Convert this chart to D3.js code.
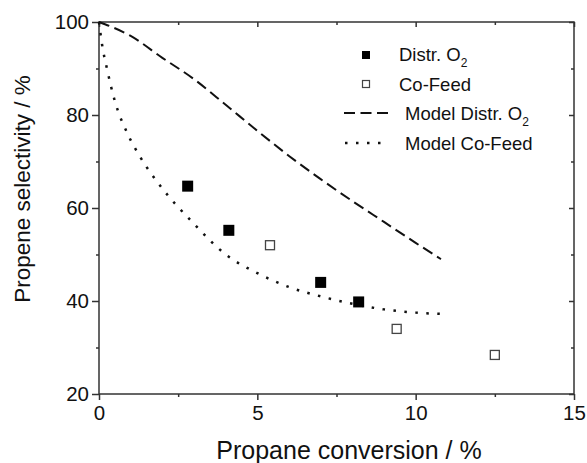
<!DOCTYPE html>
<html>
<head>
<meta charset="utf-8">
<script src="https://cdn.jsdelivr.net/npm/d3@7"></script>
<style>
  body { margin: 0; background: #fff; }
  svg { display: block; font-family: "Liberation Sans", Arial, sans-serif; }
  .tick text { font-size: 20.5px; fill: #111; }
</style>
</head>
<body>
<svg id="chart" width="587" height="463"></svg>
<script>
// ---- data ----
const distrX = [2.8, 4.1, 7.0, 8.2];
const distrY = [64.7, 55.2, 44.0, 39.8];
const cofeedX = [5.4, 9.4, 12.5];
const cofeedY = [52.0, 34.0, 28.4];

const modelDistrX = [0, 1, 2, 3, 4, 5, 6, 7, 8, 9, 10, 10.8];
const modelDistrY = [100, 97, 92.3, 87.7, 82.2, 76.6, 71.2, 66.2, 61.5, 57.0, 52.5, 49.0];

const modelCoX = [0, 0.1, 0.25, 0.5, 0.9, 1.3, 2, 3, 4, 5, 6, 7, 8, 9, 10, 11];
const modelCoY = [100, 95, 90, 83, 76, 71, 64.2, 56.6, 50.0, 46.0, 43.0, 41.0, 39.4, 38.2, 37.5, 37.2];

const xTicks = [0, 5, 10, 15];
const yTicks = [20, 40, 60, 80, 100];

// ---- layout ----
const svg = d3.select("#chart");
const margin = { left: 99, right: 13, top: 22, bottom: 69 };
const W = 587, H = 463;

const x = d3.scaleLinear().domain([0, 15]).range([margin.left, W - margin.right]);
const y = d3.scaleLinear().domain([20, 100]).range([H - margin.bottom, margin.top]);

const axisColor = "#333";

// frame
svg.append("rect")
  .attr("x", x(0)).attr("y", y(100))
  .attr("width", x(15) - x(0)).attr("height", y(20) - y(100))
  .attr("fill", "none").attr("stroke", axisColor).attr("stroke-width", 1.5);

// minor ticks (between majors)
const xMinor = d3.range(2.5, 15, 5);
const yMinor = d3.range(30, 100, 20);

function styleAxis(gSel) {
  gSel.select(".domain").remove();
  gSel.selectAll(".tick line").attr("stroke", axisColor).attr("stroke-width", 1.5);
}

// bottom / left: outward, labelled
svg.append("g").attr("transform", `translate(0,${y(20)})`)
  .call(d3.axisBottom(x).tickValues(xTicks).tickSize(6).tickPadding(5).tickFormat(d3.format("d")))
  .call(styleAxis);
svg.append("g").attr("transform", `translate(0,${y(20)})`)
  .call(d3.axisBottom(x).tickValues(xMinor).tickSize(3).tickFormat(""))
  .call(styleAxis);
svg.append("g").attr("transform", `translate(${x(0)},0)`)
  .call(d3.axisLeft(y).tickValues(yTicks).tickSize(7).tickPadding(3).tickFormat(d3.format("d")))
  .call(styleAxis);
svg.append("g").attr("transform", `translate(${x(0)},0)`)
  .call(d3.axisLeft(y).tickValues(yMinor).tickSize(3).tickFormat(""))
  .call(styleAxis);

// top / right: inward, no labels
svg.append("g").attr("transform", `translate(0,${y(100)})`)
  .call(d3.axisTop(x).tickValues(xTicks).tickSize(-5).tickFormat(""))
  .call(styleAxis);
svg.append("g").attr("transform", `translate(0,${y(100)})`)
  .call(d3.axisTop(x).tickValues(xMinor).tickSize(-3).tickFormat(""))
  .call(styleAxis);
svg.append("g").attr("transform", `translate(${x(15)},0)`)
  .call(d3.axisRight(y).tickValues(yTicks).tickSize(-5).tickFormat(""))
  .call(styleAxis);
svg.append("g").attr("transform", `translate(${x(15)},0)`)
  .call(d3.axisRight(y).tickValues(yMinor).tickSize(-3).tickFormat(""))
  .call(styleAxis);

// axis titles
svg.append("text")
  .attr("x", 349).attr("y", 459)
  .attr("text-anchor", "middle").attr("font-size", 25).attr("fill", "#111")
  .text("Propane conversion / %");
svg.append("text")
  .attr("transform", `translate(30,189) rotate(-90)`)
  .attr("text-anchor", "middle").attr("font-size", 22.5).attr("fill", "#111")
  .text("Propene selectivity / %");

// ---- model curves ----
const line = d3.line().curve(d3.curveMonotoneX);
svg.append("path")
  .datum(modelDistrX.map((v, i) => [x(v), y(modelDistrY[i])]))
  .attr("d", line)
  .attr("fill", "none").attr("stroke", "#111").attr("stroke-width", 2)
  .attr("stroke-dasharray", "11,5.5");
svg.append("path")
  .datum(modelCoX.map((v, i) => [x(v), y(modelCoY[i])]))
  .attr("d", line)
  .attr("fill", "none").attr("stroke", "#111").attr("stroke-width", 2.5)
  .attr("stroke-dasharray", "2.5,8.5");

// ---- markers ----
const s1 = 11, s2 = 10;
svg.selectAll(".distr").data(distrX).join("rect")
  .attr("x", (d) => x(d) - s1 / 2)
  .attr("y", (d, i) => y(distrY[i]) - s1 / 2)
  .attr("width", s1).attr("height", s1)
  .attr("fill", "#000");
svg.selectAll(".cofeed").data(cofeedX).join("rect")
  .attr("x", (d) => x(d) - s2 / 2 + 0.5)
  .attr("y", (d, i) => y(cofeedY[i]) - s2 / 2 + 0.5)
  .attr("width", s2 - 1).attr("height", s2 - 1)
  .attr("fill", "#fff").attr("stroke", "#444").attr("stroke-width", 1.3);

// ---- legend ----
const leg = svg.append("g").attr("font-size", 18.5).attr("fill", "#111");
function o2Label(g, tx, ty, prefix) {
  const t = g.append("text").attr("x", tx).attr("y", ty);
  t.append("tspan").text(prefix + "O");
  t.append("tspan").attr("font-size", 12).attr("dy", 6).text("2");
}
leg.append("rect").attr("x", 362).attr("y", 51).attr("width", 8).attr("height", 8).attr("fill", "#000");
o2Label(leg, 399, 61, "Distr. ");
leg.append("rect").attr("x", 362.5).attr("y", 80.5).attr("width", 7).attr("height", 7)
  .attr("fill", "#fff").attr("stroke", "#444").attr("stroke-width", 1.2);
leg.append("text").attr("x", 399).attr("y", 91).text("Co-Feed");
leg.append("line").attr("x1", 344).attr("x2", 389).attr("y1", 113).attr("y2", 113)
  .attr("stroke", "#111").attr("stroke-width", 2).attr("stroke-dasharray", "11,5.5");
o2Label(leg, 405, 120, "Model Distr. ");
leg.append("line").attr("x1", 345).attr("x2", 389).attr("y1", 143).attr("y2", 143)
  .attr("stroke", "#111").attr("stroke-width", 2.5).attr("stroke-dasharray", "2.5,8.5");
leg.append("text").attr("x", 405).attr("y", 150).text("Model Co-Feed");
</script>
</body>
</html>
